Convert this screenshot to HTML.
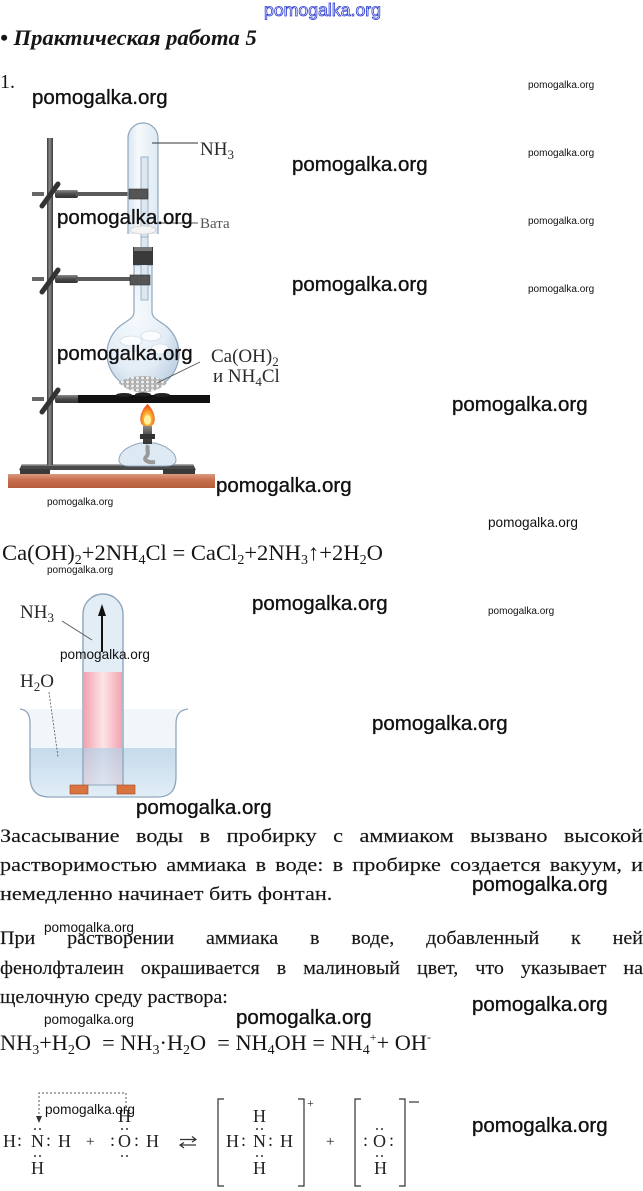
<!DOCTYPE html>
<html><head><meta charset="utf-8">
<style>
html,body{margin:0;padding:0;background:#fff;}
body{width:643px;height:1191px;position:relative;overflow:hidden;}
.t{position:absolute;white-space:nowrap;line-height:1;color:#161616;font-family:"Liberation Serif","DejaVu Serif",serif;}
.j{white-space:normal;text-align:justify;text-align-last:justify;transform-origin:0 0;}
.l{transform-origin:0 0;}
.w{position:absolute;white-space:nowrap;line-height:1;font-family:"Liberation Sans","DejaVu Sans",sans-serif;color:#111;}
.wl{font-size:20.5px;-webkit-text-stroke:0.35px #111;}
.wm{font-size:13.6px;}
.ws{font-size:10px;}
.sb{font-size:14px;position:relative;top:4px;}
.sp{font-size:12px;position:relative;top:-9px;}
.p{-webkit-text-stroke:0.15px #161616;}
</style></head><body>

<svg width="643" height="1191" viewBox="0 0 643 1191" style="position:absolute;left:0;top:0">
<defs>
<linearGradient id="tb" x1="0" y1="0" x2="0" y2="1"><stop offset="0" stop-color="#dc9a82"/><stop offset="0.4" stop-color="#c8714f"/><stop offset="1" stop-color="#b65d3c"/></linearGradient>
<linearGradient id="rd" x1="0" y1="0" x2="1" y2="0"><stop offset="0" stop-color="#3a3a3a"/><stop offset="0.45" stop-color="#8c8c8c"/><stop offset="1" stop-color="#3a3a3a"/></linearGradient>
<linearGradient id="arm" x1="0" y1="0" x2="0" y2="1"><stop offset="0" stop-color="#8a8a8a"/><stop offset="0.5" stop-color="#4a4a4a"/><stop offset="1" stop-color="#333"/></linearGradient>
<linearGradient id="glass" x1="0" y1="0" x2="1" y2="0"><stop offset="0" stop-color="#cddcea"/><stop offset="0.35" stop-color="#f3f8fb"/><stop offset="1" stop-color="#d3e1ee"/></linearGradient>
<radialGradient id="bulb" cx="0.4" cy="0.4" r="0.65"><stop offset="0" stop-color="#f6fafd"/><stop offset="0.7" stop-color="#e3edf6"/><stop offset="1" stop-color="#c4d6e6"/></radialGradient>
<radialGradient id="fl" cx="0.5" cy="0.65" r="0.6"><stop offset="0" stop-color="#fff6b0"/><stop offset="0.45" stop-color="#ffb030"/><stop offset="1" stop-color="#e8461a"/></radialGradient>
<linearGradient id="pink" x1="0" y1="0" x2="1" y2="0"><stop offset="0" stop-color="#f2a3b0"/><stop offset="0.5" stop-color="#fde4e8"/><stop offset="1" stop-color="#f2a3b0"/></linearGradient>
<linearGradient id="water" x1="0" y1="0" x2="0" y2="1"><stop offset="0" stop-color="#b6d1e7"/><stop offset="1" stop-color="#dceaf5"/></linearGradient>
<pattern id="gr" width="5" height="4" patternUnits="userSpaceOnUse"><rect width="5" height="4" fill="#bdbdbd"/><circle cx="2.5" cy="2" r="2" fill="#ececec" stroke="#8a8a8a" stroke-width="0.5"/></pattern>
<clipPath id="bc"><circle cx="143" cy="357" r="35.5"/></clipPath>
</defs>

<!-- ===== Apparatus ===== -->
<rect x="8" y="474" width="207" height="14" fill="url(#tb)"/>
<path d="M22 464 H193 L196 470 H19 Z" fill="#4a4a4a"/>
<rect x="22" y="464" width="171" height="1.5" fill="#aaa"/>
<rect x="20" y="469" width="30" height="5" fill="#3a3a3a"/>
<rect x="163" y="469" width="32" height="5" fill="#3a3a3a"/>
<rect x="47" y="138" width="6" height="327" fill="url(#rd)"/>

<!-- clamps -->
<g>
<rect x="32" y="192" width="12" height="4" fill="#666"/>
<rect x="55" y="190" width="23" height="8" rx="2" fill="url(#arm)"/>
<rect x="76" y="192" width="56" height="4" fill="#5a5a5a"/>
<line x1="42" y1="206" x2="58" y2="184" stroke="#333" stroke-width="5" stroke-linecap="round"/>
<rect x="32" y="277" width="12" height="4" fill="#666"/>
<rect x="55" y="275" width="23" height="8" rx="2" fill="url(#arm)"/>
<rect x="76" y="277" width="56" height="4" fill="#5a5a5a"/>
<line x1="42" y1="292" x2="58" y2="270" stroke="#333" stroke-width="5" stroke-linecap="round"/>
<rect x="32" y="397" width="12" height="4" fill="#666"/>
<rect x="55" y="395" width="24" height="8" rx="2" fill="url(#arm)"/>
<line x1="42" y1="412" x2="58" y2="390" stroke="#333" stroke-width="5" stroke-linecap="round"/>
</g>

<!-- flask -->
<path d="M134 265 V312 C134 318 128 320 120 326 A36 36 0 1 0 166 326 C158 320 152 318 152 312 V265 Z" fill="url(#bulb)" stroke="#8fa6bd" stroke-width="1.2"/>
<g clip-path="url(#bc)">
<ellipse cx="143" cy="392" rx="30" ry="16" fill="url(#gr)"/>
<ellipse cx="131" cy="341" rx="11" ry="5" fill="#fafcfe" stroke="#c5d3df" stroke-width="0.6"/>
<ellipse cx="151" cy="336" rx="10" ry="5" fill="#fafcfe" stroke="#c5d3df" stroke-width="0.6"/>
<ellipse cx="160" cy="349" rx="9" ry="5" fill="#fafcfe" stroke="#c5d3df" stroke-width="0.6"/>
<ellipse cx="134" cy="356" rx="10" ry="5" fill="#fafcfe" stroke="#c5d3df" stroke-width="0.6"/>
</g>
<!-- inner tube -->
<rect x="141" y="157" width="7" height="143" fill="#dbe7f1" stroke="#8fa6bd" stroke-width="0.8"/>
<!-- test tube -->
<path d="M128 234 V138 A15 15 0 0 1 158 138 V234" fill="url(#glass)" fill-opacity="0.75" stroke="#8fa6bd" stroke-width="1.2"/>
<rect x="141" y="157" width="7" height="80" fill="#dbe7f1" stroke="#8fa6bd" stroke-width="0.8"/>
<ellipse cx="143" cy="230" rx="13" ry="4" fill="#f4f4f4" stroke="#c8c8c8" stroke-width="0.6"/>
<!-- stopper -->
<rect x="133" y="247" width="20" height="18" fill="#3a3a3a"/>
<rect x="134" y="247" width="18" height="4" fill="#777"/>
<!-- jaws -->
<rect x="129" y="189" width="19" height="10" fill="#555" stroke="#333" stroke-width="0.6"/>
<rect x="130" y="275" width="20" height="10" fill="#555" stroke="#333" stroke-width="0.6"/>
<!-- hot plate -->
<rect x="78" y="395" width="132" height="8" fill="#111"/>
<ellipse cx="124" cy="395" rx="8" ry="2" fill="#222"/>
<ellipse cx="143" cy="394.5" rx="8" ry="2" fill="#222"/>
<ellipse cx="162" cy="395" rx="8" ry="2" fill="#222"/>
<!-- flame -->
<path d="M147.5 404 C141 410 139 418 141 423 C143 428 152 428 154 423 C156 418 154 410 147.5 404 Z" fill="url(#fl)"/>
<ellipse cx="147.5" cy="420" rx="3.5" ry="5" fill="#fff3a0"/>
<!-- burner -->
<path d="M140 443 C128 446 119 452 119 460 C119 465 124 466 130 466 H165 C171 466 176 465 176 460 C176 452 166 446 155 443 Z" fill="#dde9f3" stroke="#8fa6bd" stroke-width="1"/>
<path d="M148 445 C146 450 150 453 146 457 C143 460 148 463 155 462" stroke="#9a9a9a" stroke-width="4" fill="none"/>
<rect x="143" y="426" width="9" height="18" fill="url(#arm)"/>
<rect x="140" y="434" width="15" height="5" fill="#333"/>

<!-- labels -->
<line x1="152" y1="143" x2="198" y2="143" stroke="#333" stroke-width="0.9"/>
<text x="200" y="155" font-family="Liberation Serif, serif" font-size="19" fill="#2a2a2a">NH<tspan font-size="13" dy="4">3</tspan></text>
<line x1="158" y1="223" x2="198" y2="223" stroke="#555" stroke-width="0.9"/>
<text x="200" y="228" font-family="Liberation Serif, serif" font-size="15" fill="#555">Вата</text>
<line x1="157" y1="383" x2="200" y2="362" stroke="#555" stroke-width="0.9"/>
<text x="211" y="362" font-family="Liberation Serif, serif" font-size="19" fill="#2a2a2a">Ca(OH)<tspan font-size="13" dy="4">2</tspan></text>
<text x="213" y="382" font-family="Liberation Serif, serif" font-size="19" fill="#2a2a2a">и NH<tspan font-size="13" dy="4">4</tspan><tspan dy="-4">Cl</tspan></text>

<!-- ===== Fountain figure ===== -->
<path d="M20 709 C27 710 30 714 30 724 V776 C30 790 36 797 50 797 H157 C171 797 176 790 176 776 V724 C176 714 180 710 188 709" fill="#f1f6fa"/>
<path d="M83 785 V614 A20 20 0 0 1 123 614 V785 Z" fill="#e2edf6"/>
<rect x="84" y="672" width="38" height="113" fill="url(#pink)"/>
<path d="M30.5 748 H175.5 V776 C175.5 790 170 796 157 796 H50 C36 796 30.5 790 30.5 776 Z" fill="url(#water)" fill-opacity="0.75"/>
<path d="M83 785 V614 A20 20 0 0 1 123 614 V785" fill="none" stroke="#8fa6bd" stroke-width="1.4"/>
<line x1="88" y1="785" x2="118" y2="785" stroke="#8fa6bd" stroke-width="1"/>
<path d="M20 709 C27 710 30 714 30 724 V776 C30 790 36 797 50 797 H157 C171 797 176 790 176 776 V724 C176 714 180 710 188 709" fill="none" stroke="#8fa6bd" stroke-width="1.3"/>
<rect x="70" y="785" width="18" height="9" fill="#d9733f" stroke="#a04a20" stroke-width="0.6"/>
<rect x="117" y="785" width="18" height="9" fill="#d9733f" stroke="#a04a20" stroke-width="0.6"/>
<line x1="102" y1="652" x2="102" y2="613" stroke="#111" stroke-width="2"/>
<polygon points="98,616 106,616 102,604" fill="#111"/>
<text x="20" y="618" font-family="Liberation Serif, serif" font-size="19" fill="#2a2a2a">NH<tspan font-size="13" dy="4">3</tspan></text>
<line x1="62" y1="621" x2="92" y2="640" stroke="#555" stroke-width="0.9"/>
<text x="20" y="687" font-family="Liberation Serif, serif" font-size="19" fill="#2a2a2a">H<tspan font-size="13" dy="4">2</tspan><tspan dy="-4">O</tspan></text>
<line x1="49" y1="692" x2="58" y2="757" stroke="#555" stroke-width="0.8" stroke-dasharray="2 1.5"/>

<!-- ===== Lewis structures ===== -->
<g font-family="Liberation Serif, serif" font-size="18" fill="#222">
<path d="M39 1118 V1093 H126 V1112" fill="none" stroke="#555" stroke-width="1" stroke-dasharray="2 2"/>
<polygon points="36,1116 42,1116 39,1123" fill="#333"/>
<text x="3" y="1147">H</text><text x="17" y="1146">:</text><text x="31" y="1147">N</text><text x="46" y="1146">:</text><text x="58" y="1147">H</text>
<text x="86" y="1146" font-size="15">+</text>
<text x="110" y="1146">:</text><text x="118" y="1147">O</text><text x="134" y="1146">:</text><text x="146" y="1147">H</text>
<text x="31" y="1174">H</text>
<text x="118" y="1122">H</text>
<circle cx="35" cy="1129" r="1" fill="#333"/><circle cx="40" cy="1129" r="1" fill="#333"/>
<circle cx="35" cy="1156" r="1" fill="#333"/><circle cx="40" cy="1156" r="1" fill="#333"/>
<circle cx="122" cy="1129" r="1" fill="#333"/><circle cx="127" cy="1129" r="1" fill="#333"/>
<circle cx="122" cy="1156" r="1" fill="#333"/><circle cx="127" cy="1156" r="1" fill="#333"/>
<path d="M180 1139.5 H196 M192 1136.5 L196 1139.5 L192 1142 M196 1145 H180 M184 1142.5 L180 1145 L184 1148" fill="none" stroke="#333" stroke-width="1.2"/>
<path d="M224 1099 H218 V1186 H224" fill="none" stroke="#333" stroke-width="1.2"/>
<path d="M298 1099 H304 V1186 H298" fill="none" stroke="#333" stroke-width="1.2"/>
<text x="307" y="1107" font-size="12">+</text>
<text x="226" y="1147">H</text><text x="241" y="1146">:</text><text x="253" y="1147">N</text><text x="268" y="1146">:</text><text x="280" y="1147">H</text>
<text x="253" y="1122">H</text><text x="253" y="1174">H</text>
<circle cx="257" cy="1129" r="1" fill="#333"/><circle cx="262" cy="1129" r="1" fill="#333"/>
<circle cx="257" cy="1156" r="1" fill="#333"/><circle cx="262" cy="1156" r="1" fill="#333"/>
<text x="326" y="1146" font-size="15">+</text>
<path d="M361 1099 H355 V1186 H361" fill="none" stroke="#333" stroke-width="1.2"/>
<path d="M399 1099 H405 V1186 H399" fill="none" stroke="#333" stroke-width="1.2"/>
<line x1="409" y1="1102" x2="419" y2="1102" stroke="#333" stroke-width="1.2"/>
<text x="363" y="1146">:</text><text x="373" y="1147">O</text><text x="389" y="1146">:</text>
<text x="374" y="1174">H</text>
<circle cx="377" cy="1129" r="1" fill="#333"/><circle cx="382" cy="1129" r="1" fill="#333"/>
<circle cx="377" cy="1156" r="1" fill="#333"/><circle cx="382" cy="1156" r="1" fill="#333"/>
</g>
</svg>

<!-- ===== Text ===== -->
<div class="w" style="left:264px;top:2px;font-size:17.7px;color:#fff;-webkit-text-stroke:0.8px #2a3ad0;">pomogalka.org</div>
<div class="t" style="left:0;top:27px;font-size:22.6px;font-weight:bold;font-style:italic;">• Практическая работа 5</div>
<div class="t" style="left:0;top:72px;font-size:20px;">1.</div>

<div class="t" style="left:2px;top:542px;font-size:22.6px;">Ca(OH)<span class="sb">2</span>+2NH<span class="sb">4</span>Cl = CaCl<span class="sb">2</span>+2NH<span class="sb">3</span>↑+2H<span class="sb">2</span>O</div>

<div class="t j p" style="left:0;top:827px;width:549.6px;font-size:19px;transform:scaleX(1.17);">Засасывание воды в пробирку с аммиаком вызвано высокой</div>
<div class="t j p" style="left:0;top:856px;width:549.6px;font-size:19px;transform:scaleX(1.17);">растворимостью аммиака в воде: в пробирке создается вакуум, и</div>
<div class="t l p" style="left:0;top:885px;font-size:19px;transform:scaleX(1.17);">немедленно начинает бить фонтан.</div>

<div class="t j p" style="left:0;top:929px;width:609.5px;font-size:19px;transform:scaleX(1.055);">При растворении аммиака в воде, добавленный к ней</div>
<div class="t j p" style="left:0;top:959px;width:609.5px;font-size:19px;transform:scaleX(1.055);">фенолфталеин окрашивается в малиновый цвет, что указывает на</div>
<div class="t l p" style="left:0;top:988px;font-size:19px;transform:scaleX(1.055);">щелочную среду раствора:</div>

<div class="t" style="left:0;top:1032px;font-size:22.3px;">NH<span class="sb">3</span>+H<span class="sb">2</span>O&nbsp; = NH<span class="sb">3</span>·H<span class="sb">2</span>O&nbsp; = NH<span class="sb">4</span>OH = NH<span class="sb">4</span><span class="sp">+</span>+ OH<span class="sp">-</span></div>

<!-- watermarks -->
<div class="w wl" style="left:32px;top:87.6px;">pomogalka.org</div>
<div class="w wl" style="left:292px;top:154.6px;">pomogalka.org</div>
<div class="w wl" style="left:57px;top:207.6px;">pomogalka.org</div>
<div class="w wl" style="left:292px;top:274.6px;">pomogalka.org</div>
<div class="w wl" style="left:57px;top:343.6px;">pomogalka.org</div>
<div class="w wl" style="left:452px;top:394.6px;">pomogalka.org</div>
<div class="w wl" style="left:216px;top:475.6px;">pomogalka.org</div>
<div class="w wl" style="left:252px;top:593.6px;">pomogalka.org</div>
<div class="w wl" style="left:372px;top:713.6px;">pomogalka.org</div>
<div class="w wl" style="left:136px;top:797.6px;">pomogalka.org</div>
<div class="w wl" style="left:472px;top:874.6px;">pomogalka.org</div>
<div class="w wl" style="left:472px;top:994.6px;">pomogalka.org</div>
<div class="w wl" style="left:236px;top:1007.6px;">pomogalka.org</div>
<div class="w wl" style="left:472px;top:1115.6px;">pomogalka.org</div>

<div class="w wm" style="left:488px;top:515.5px;">pomogalka.org</div>
<div class="w wm" style="left:60px;top:647.5px;">pomogalka.org</div>
<div class="w wm" style="left:44px;top:920.5px;">pomogalka.org</div>
<div class="w wm" style="left:44px;top:1012.5px;">pomogalka.org</div>
<div class="w wm" style="left:45px;top:1102.5px;">pomogalka.org</div>

<div class="w ws" style="left:528px;top:80.5px;">pomogalka.org</div>
<div class="w ws" style="left:528px;top:148.5px;">pomogalka.org</div>
<div class="w ws" style="left:528px;top:216.5px;">pomogalka.org</div>
<div class="w ws" style="left:528px;top:284.5px;">pomogalka.org</div>
<div class="w ws" style="left:47px;top:497.5px;">pomogalka.org</div>
<div class="w ws" style="left:47px;top:565.5px;">pomogalka.org</div>
<div class="w ws" style="left:488px;top:606.5px;">pomogalka.org</div>

</body></html>
